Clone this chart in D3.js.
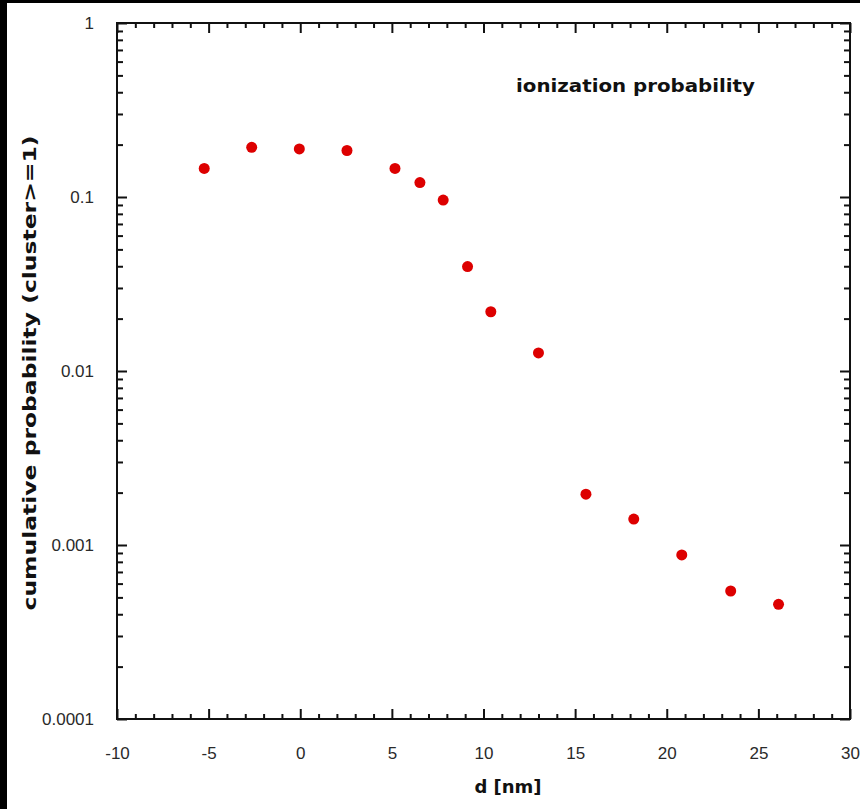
<!DOCTYPE html>
<html>
<head>
<meta charset="utf-8">
<script src="https://cdn.jsdelivr.net/npm/d3@7/dist/d3.min.js"></script>
<style>
html, body { margin: 0; padding: 0; background: #fff; }
svg { display: block; }
</style>
</head>
<body>
<script>
// ---- data ----
const distance = [-5.24, -2.65, -0.05, 2.55, 5.17, 6.53, 7.80, 9.13, 10.40, 13.0, 15.59, 18.2, 20.82, 23.49, 26.1];
const probability = [0.146, 0.193, 0.189, 0.185, 0.146, 0.121, 0.096, 0.0398, 0.0219, 0.0127, 0.00196, 0.00141, 0.000877, 0.000544, 0.000456];
const xTickValues = [-10, -5, 0, 5, 10, 15, 20, 25, 30];
const xTickLabels = ["-10", "-5", "0", "5", "10", "15", "20", "25", "30"];
const yTickValues = [0.0001, 0.001, 0.01, 0.1, 1];
const yTickLabels = ["0.0001", "0.001", "0.01", "0.1", "1"];
const titleText = "ionization probability";
const xLabelText = "d [nm]";
const yLabelText = "cumulative probability (cluster>=1)";

const W = 860, H = 809;
const pLeft = 117, pRight = 850, pTop = 23, pBottom = 719;

const svg = d3.select("body").append("svg").attr("width", W).attr("height", H);
svg.append("rect").attr("width", W).attr("height", H).attr("fill", "#fff");
// black frame bands of the original screenshot
svg.append("rect").attr("x", 0).attr("y", 0).attr("width", W).attr("height", 3).attr("fill", "#000");
svg.append("rect").attr("x", 0).attr("y", 0).attr("width", 7).attr("height", H).attr("fill", "#000");

const x = d3.scaleLinear().domain([-10, 30]).range([pLeft, pRight]);
const y = d3.scaleLog().domain([0.0001, 1]).range([pBottom, pTop]);

const xMinor = d3.range(-10, 31, 1).filter(v => v % 5 !== 0);
const yMinor = y.ticks().filter(v => !yTickValues.some(t => Math.abs(t - v) / t < 1e-9));

const tickColor = "#111";
function styleAxis(g) {
  g.select(".domain").remove();
  g.selectAll("line").attr("stroke", tickColor).attr("stroke-width", 2);
  g.selectAll("text").attr("font-family", "'Liberation Sans', Arial, sans-serif")
    .attr("font-size", 17).attr("fill", "#2a2a2a");
}

// bottom axis
svg.append("g").attr("transform", `translate(0,${pBottom})`)
  .call(d3.axisBottom(x).tickValues(xTickValues).tickSizeInner(-10).tickSizeOuter(0).tickPadding(28)
    .tickFormat((d, i) => xTickLabels[i]))
  .call(styleAxis);
svg.append("g").attr("transform", `translate(0,${pBottom})`)
  .call(d3.axisBottom(x).tickValues(xMinor).tickSizeInner(-5).tickSizeOuter(0).tickFormat(""))
  .call(styleAxis);
// top axis
svg.append("g").attr("transform", `translate(0,${pTop})`)
  .call(d3.axisTop(x).tickValues(xTickValues).tickSizeInner(-10).tickSizeOuter(0).tickFormat(""))
  .call(styleAxis);
svg.append("g").attr("transform", `translate(0,${pTop})`)
  .call(d3.axisTop(x).tickValues(xMinor).tickSizeInner(-5).tickSizeOuter(0).tickFormat(""))
  .call(styleAxis);
// left axis
svg.append("g").attr("transform", `translate(${pLeft},0)`)
  .call(d3.axisLeft(y).tickValues(yTickValues).tickSizeInner(-10).tickSizeOuter(0).tickPadding(23)
    .tickFormat((d, i) => yTickLabels[i]))
  .call(styleAxis);
svg.append("g").attr("transform", `translate(${pLeft},0)`)
  .call(d3.axisLeft(y).tickValues(yMinor).tickSizeInner(-6).tickSizeOuter(0).tickFormat(""))
  .call(styleAxis);
// right axis
svg.append("g").attr("transform", `translate(${pRight},0)`)
  .call(d3.axisRight(y).tickValues(yTickValues).tickSizeInner(-10).tickSizeOuter(0).tickFormat(""))
  .call(styleAxis);
svg.append("g").attr("transform", `translate(${pRight},0)`)
  .call(d3.axisRight(y).tickValues(yMinor).tickSizeInner(-6).tickSizeOuter(0).tickFormat(""))
  .call(styleAxis);

// frame
svg.append("rect").attr("x", pLeft).attr("y", pTop).attr("width", pRight - pLeft).attr("height", pBottom - pTop)
  .attr("fill", "none").attr("stroke", tickColor).attr("stroke-width", 2);

// points
svg.append("g").selectAll("circle").data(distance.map((d, i) => ({d, p: probability[i]})))
  .join("circle")
  .attr("cx", e => x(e.d)).attr("cy", e => y(e.p)).attr("r", 5.5)
  .attr("fill", "#dd0000");

const boldFont = "'DejaVu Sans', Verdana, sans-serif";
// title
svg.append("text").attr("x", 516).attr("y", 92).attr("font-family", boldFont).attr("font-weight", "bold")
  .attr("font-size", 18).attr("textLength", 239).attr("lengthAdjust", "spacingAndGlyphs")
  .attr("fill", "#111").text(titleText);
// x label
svg.append("text").attr("x", 508).attr("y", 793).attr("text-anchor", "middle")
  .attr("font-family", boldFont).attr("font-weight", "bold").attr("font-size", 18)
  .attr("fill", "#111").text(xLabelText);
// y label
svg.append("text").attr("transform", "translate(36,373) rotate(-90)").attr("text-anchor", "middle")
  .attr("font-family", boldFont).attr("font-weight", "bold").attr("font-size", 17)
  .attr("textLength", 475).attr("lengthAdjust", "spacingAndGlyphs")
  .attr("fill", "#111").text(yLabelText);
</script>
</body>
</html>
